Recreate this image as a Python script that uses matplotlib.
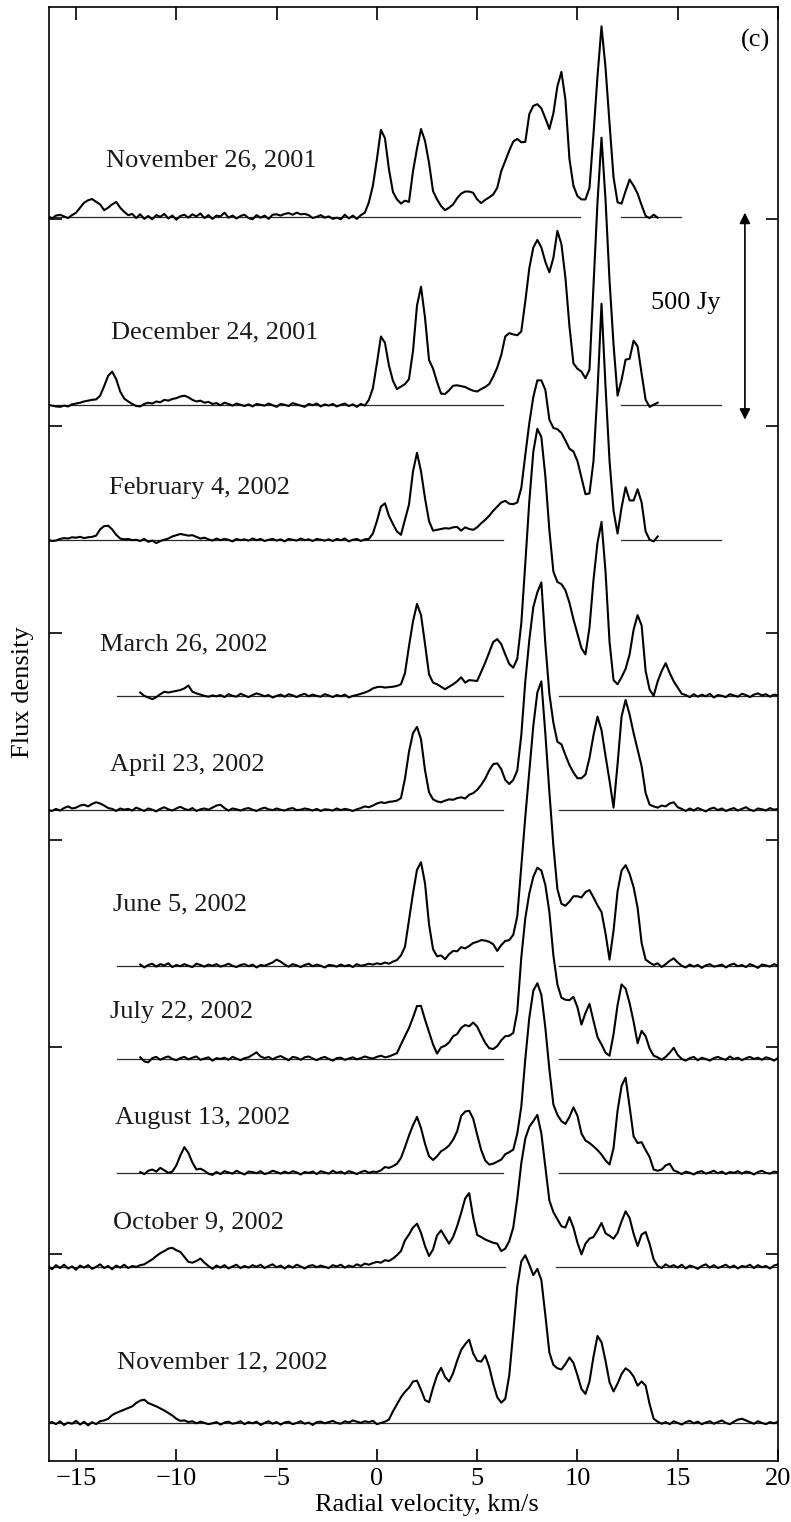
from matplotlib import pyplot as plt
import numpy as np


# ---- Spectra (flux above each baseline, Jy), channel spacing dv km/s ----

dv = 0.2

dates = ["November 26, 2001", "December 24, 2001", "February 4, 2002",
         "March 26, 2002", "April 23, 2002", "June 5, 2002", "July 22, 2002",
         "August 13, 2002", "October 9, 2002", "November 12, 2002"]

# first channel velocity of every spectrum
v_start = [-16.4, -16.4, -16.4, -11.8, -16.4, -11.8, -11.8, -11.8, -16.4, -16.4]

# vertical offset of every spectrum, Jy
offsets = [3005, 2551, 2225, 1848, 1573, 1196, 971, 696, 469, 92]

# velocity ranges where the zero level is drawn
zero_ranges = [
  [(-16.35, 10.15), (12.15, 15.15)],
  [(-16.35, 6.3), (12.15, 17.15)],
  [(-16.35, 6.3), (12.15, 17.15)],
  [(-12.95, 6.3), (9.1, 20.0)],
  [(-16.35, 6.3), (9.1, 20.0)],
  [(-12.95, 6.3), (9.1, 20.0)],
  [(-12.95, 6.3), (9.1, 20.0)],
  [(-12.95, 6.3), (9.1, 20.0)],
  [(-16.35, 6.4), (8.95, 20.0)],
  [(-16.35, 20.0)],
]

flux_2001_11_26 = [
  2, -4, 3, 5, 1, -3, 4, 10, 22, 34,
  40, 43, 36, 30, 16, 22, 30, 36, 22, 12,
  4, 7, -3, 6, -5, 2, -6, 4, 0, 7,
  -4, 3, -7, 2, 5, -2, 6, 1, 8, -3,
  4, -5, 3, 1, 10, -2, 3, -4, 2, 5,
  -3, -6, 4, -2, 3, -5, 5, 6, 3, 7,
  9, 5, 10, 6, 7, 4, -3, 0, 4, -2,
  1, -5, -2, -6, 5, -4, 3, -5, 4, 10,
  35, 75, 139, 210, 190, 115, 60, 42, 32, 39,
  36, 110, 165, 212, 183, 130, 62, 42, 26, 16,
  22, 30, 45, 56, 61, 61, 58, 42, 33, 41,
  47, 54, 70, 110, 135, 160, 182, 188, 180, 181,
  248, 268, 272, 262, 238, 212, 250, 315, 350, 283,
  140, 75, 50, 42, 42, 70, 200, 340, 460, 360,
  225, 95, 35, 32, 62, 90, 75, 56, 28, 2,
  -3, 5, -2]

flux_2001_12_24 = [
  0, -2, -4, -5, -2, -4, 1, 3, 5, 8,
  10, 12, 13, 22, 45, 70, 80, 62, 32, 15,
  8, 2, -3, -4, 2, 5, 3, 8, 6, 12,
  10, 14, 16, 20, 22, 18, 12, 8, 10, 5,
  7, 2, 4, -1, 5, 2, -2, 3, 0, -3,
  1, -4, 2, 0, -2, 3, -1, -5, 2, 0,
  -3, 4, 1, -2, -5, 2, -1, 3, -4, 1,
  -2, 2, -4, 0, 3, -3, 1, -5, 2, -2,
  12, 40, 100, 165, 150, 95, 58, 38, 44, 50,
  62, 130, 240, 285, 210, 108, 87, 55, 27, 26,
  35, 46, 47, 45, 43, 38, 34, 32, 38, 43,
  50, 68, 90, 120, 165, 173, 170, 168, 177, 250,
  330, 380, 398, 380, 345, 320, 355, 420, 388, 307,
  190, 100, 87, 80, 64, 85, 285, 490, 645, 495,
  300, 145, 22, 60, 109, 111, 155, 141, 75, 12,
  -5, 0, 5]

flux_2002_02_04 = [
  0, -3, -2, 2, 4, 3, 6, 5, 7, 4,
  6, 7, 10, 25, 33, 34, 25, 12, 3, 1,
  2, -1, 0, -3, 2, -5, -2, -8, -3, 0,
  3, 8, 11, 14, 12, 10, 11, 7, 3, 5,
  1, -2, 3, -1, 2, 0, -4, 2, -1, 1,
  -2, 3, -1, 2, -3, 0, 2, -2, 1, -4,
  2, 0, -2, 3, -1, 1, -3, 2, 0, -2,
  1, -3, 2, -1, 3, -4, 0, 2, -3, 1,
  2, 15, 45, 80, 88, 58, 38, 20, 12, 48,
  85, 165, 210, 165, 100, 45, 22, 24, 26, 28,
  27, 30, 31, 22, 30, 26, 24, 30, 40, 48,
  58, 70, 80, 90, 94, 87, 86, 90, 125, 205,
  282, 345, 385, 385, 362, 290, 270, 267, 258, 240,
  220, 213, 190, 150, 110, 112, 190, 360, 570, 370,
  190, 70, 15, 78, 127, 95, 95, 122, 90, 20,
  0, -4, 8]

flux_2002_03_26 = [
  8, 0, -4, -8, -3, 4, 10, 8, 10, 12,
  14, 18, 25, 10, 6, 3, 0, -2, 1, -1,
  2, -3, 4, 0, -2, 5, 1, -3, 2, 6,
  3, -1, 2, -4, 0, 3, -2, 4, 1, -3,
  2, 5, -1, 3, 0, -2, 4, 1, -3, 2,
  -1, 3, -4, 0, 2, 5, 8, 12, 18, 21,
  22, 20, 21, 22, 24, 28, 55, 120, 180, 222,
  195, 125, 52, 32, 28, 22, 16, 22, 28, 35,
  45, 32, 38, 37, 36, 58, 80, 105, 130, 137,
  125, 100, 77, 68, 90, 175, 320, 470, 590, 645,
  625, 530, 400, 300, 275, 270, 255, 225, 185, 150,
  115, 100, 165, 280, 370, 420, 300, 130, 38, 28,
  45, 65, 100, 160, 195, 170, 60, 15, 0, 35,
  60, 79, 55, 35, 20, 5, 2, -3, 4, -2,
  3, -1, 5, -4, 2, 0, -3, 4, 1, -2,
  5, 2, -3, 3, 6, 1, 4, -2, 3, 1]

flux_2002_04_23 = [
  0, -3, 2, -2, 4, 8, 3, 5, 10, 12,
  8, 14, 18, 15, 10, 4, 2, -3, 3, 0,
  2, -2, 5, 1, -3, 3, 0, -4, 2, 6,
  1, -2, 3, 7, 2, -1, 4, -3, 1, 3,
  0, 5, 10, 12, 4, -2, 3, 1, -2, 2,
  4, 0, -3, 2, 5, 1, -1, 3, 0, -2,
  2, 4, -1, 0, 3, 1, -2, 2, -3, 1,
  0, -2, 3, -1, 2, 0, -3, 1, 4, 8,
  6, 10, 15, 18, 16, 19, 20, 22, 28, 75,
  140, 185, 200, 170, 95, 42, 25, 20, 18, 22,
  25, 24, 28, 30, 27, 36, 40, 48, 60, 75,
  95, 110, 112, 98, 72, 62, 72, 95, 180, 310,
  410, 490, 525, 549, 400, 280, 210, 164, 158, 132,
  108, 90, 76, 76, 85, 125, 180, 225, 192, 130,
  70, 5, 110, 225, 265, 230, 185, 145, 105, 40,
  12, 8, 5, 10, 8, 15, 18, 6, 2, -3,
  3, -2, 4, 0, -4, 2, 5, -1, 3, -3,
  1, 4, -2, 2, 6, 0, -3, 3, 1, -2,
  4, 0, 2]

flux_2002_06_05 = [
  3, -4, 2, 5, -2, 4, 1, 6, -3, 2,
  -1, 4, 0, -3, 5, 2, -2, 3, 0, 4,
  -2, 1, 5, 0, -3, 2, 4, -1, 3, -4,
  2, 0, 4, 8, 15, 10, 3, -2, 4, 1,
  -3, 2, 5, -1, 3, 0, -4, 2, 1, -2,
  3, -1, 2, -3, 4, 0, 2, 5, 3, 6,
  4, 8, 5, 10, 14, 25, 46, 110, 175, 232,
  250, 199, 100, 40, 23, 25, 16, 28, 36, 35,
  45, 42, 48, 55, 58, 62, 61, 58, 52, 36,
  50, 60, 62, 75, 120, 240, 360, 470, 580, 660,
  687, 560, 420, 290, 185, 150, 145, 155, 168, 168,
  165, 178, 183, 165, 146, 130, 78, 15, 85, 180,
  230, 243, 222, 190, 140, 55, 15, 8, 2, 6,
  -3, 4, 12, 18, 8, 0, -4, 3, -2, 2,
  -5, 1, 4, -2, 0, 3, -4, 2, 5, -1,
  2, -3, 4, 0, -5, 3, 1, -2, 4, 0]

flux_2002_07_22 = [
  4, -6, -8, 2, 5, -2, 3, 6, 0, -3,
  2, 5, -1, 3, 6, -2, 1, 4, -4, 2,
  0, 3, -2, 5, 1, -3, 2, 4, 10, 16,
  6, 2, 5, -1, 4, 7, 2, -3, 5, 3,
  -2, 4, 6, 1, -3, 2, 5, 0, -4, 2,
  3, -2, 1, 4, -1, 2, 6, 3, 1, 5,
  8, 4, 6, 10, 14, 35, 55, 75, 100, 128,
  128, 95, 65, 35, 13, 28, 32, 40, 55, 60,
  75, 82, 79, 88, 78, 58, 39, 26, 24, 31,
  45, 55, 56, 63, 115, 245, 340, 400, 440, 462,
  455, 420, 355, 250, 180, 148, 143, 142, 150, 125,
  83, 111, 133, 92, 53, 35, 15, 8, 60, 130,
  180, 170, 135, 90, 38, 68, 55, 25, 8, 4,
  -2, 5, 15, 27, 10, 0, -4, 2, 5, -3,
  3, 0, -4, 2, 5, 1, -2, 6, 0, 3,
  -3, 2, 5, 0, 3, -2, 4, 1, -4, 2]

flux_2002_08_13 = [
  2, -3, 5, 8, 3, 12, 6, 0, 3, 18,
  42, 62, 48, 25, 8, 10, 5, -2, -5, 2,
  -3, 4, 1, -2, 5, 0, -4, 3, 2, -1,
  4, -3, 0, 5, 2, -2, 3, -1, 4, 1,
  -4, 2, 0, 3, -3, 4, 1, -2, 5, 0,
  3, -2, 4, 1, -3, 2, 5, 0, 3, 2,
  6, 14, 12, 16, 22, 36, 62, 90, 115, 135,
  108, 70, 40, 31, 40, 52, 58, 66, 80, 100,
  137, 148, 150, 131, 92, 55, 30, 20, 22, 27,
  32, 45, 50, 56, 95, 160, 275, 375, 440, 458,
  430, 350, 250, 165, 140, 125, 118, 135, 158, 138,
  95, 78, 72, 64, 55, 44, 30, 20, 60, 150,
  210, 230, 160, 88, 72, 74, 55, 38, 8, 5,
  8, 18, 22, 6, 2, -3, 3, 0, -4, 2,
  4, -2, 1, 5, -1, 3, -3, 2, 0, 4,
  -2, 3, 1, -4, 2, 5, 0, -2, 3, 1]

flux_2002_10_09 = [
  2, -6, 4, -3, 5, -4, 1, -7, 3, -2,
  4, -5, 0, 6, -3, 2, -6, 3, -2, 5,
  -3, 2, 0, 4, 6, 12, 18, 26, 33, 38,
  44, 46, 40, 36, 24, 12, 10, 14, 20, 10,
  2, -5, 3, -2, 4, -4, 1, 5, -3, 2,
  -2, 4, 0, 5, -3, 2, 6, -1, 3, -4,
  3, -2, 5, 1, -4, 2, 4, -1, 3, 0,
  -3, 4, 1, 5, -2, 3, 0, 6, 2, 8,
  5, 9, 12, 10, 16, 14, 20, 28, 38, 64,
  78, 95, 104, 82, 50, 26, 42, 76, 88, 72,
  56, 72, 98, 130, 165, 178, 120, 77, 72, 66,
  62, 58, 56, 38, 44, 62, 95, 165, 250, 310,
  338, 352, 367, 322, 240, 160, 132, 115, 98, 95,
  120, 95, 58, 30, 56, 68, 72, 88, 106, 81,
  75, 68, 82, 110, 134, 118, 80, 50, 78, 84,
  55, 18, 2, -3, 6, 0, 4, -2, 5, -4,
  3, 0, -5, 2, 6, -2, 4, -3, 1, 5,
  -2, 3, -4, 2, 0, 5, -3, 4, -1, 2,
  -4, 3, 6]

flux_2002_11_12 = [
  0, 2, -3, 4, -5, 1, -2, 5, -4, 3,
  -6, 2, -3, 4, 6, 10, 19, 24, 28, 32,
  36, 40, 48, 54, 56, 48, 44, 40, 35, 30,
  24, 18, 10, 5, 6, 2, 4, -1, 3, 0,
  -3, -1, 2, -4, 1, 3, -2, 0, 4, -3,
  2, -1, 3, -5, 0, 4, -2, 2, -4, 1,
  3, -3, 0, 4, -2, 1, -5, 2, 3, -1,
  2, 5, 0, -2, 4, 1, 6, 3, 0, 4,
  2, 5, -3, 0, 3, 8, 28, 45, 62, 75,
  85, 100, 102, 80, 55, 50, 85, 115, 133, 111,
  100, 120, 150, 176, 190, 201, 168, 150, 148, 163,
  135, 95, 62, 49, 58, 115, 220, 330, 390, 405,
  382, 357, 372, 345, 260, 170, 140, 132, 129, 142,
  158, 145, 115, 82, 70, 100, 160, 210, 195, 150,
  98, 76, 95, 118, 132, 125, 112, 90, 100, 90,
  45, 10, 3, -2, 2, -3, 4, 0, -4, 2,
  5, -1, 3, -3, 1, 4, -2, 2, 6, 0,
  -3, 3, 8, 10, 6, 2, -2, 4, 0, -3,
  2, -1, 3]

spectra = [flux_2001_11_26, flux_2001_12_24, flux_2002_02_04, flux_2002_03_26,
           flux_2002_04_23, flux_2002_06_05, flux_2002_07_22, flux_2002_08_13,
           flux_2002_10_09, flux_2002_11_12]

# date label anchors (velocity, Jy)
label_v = [-8.25, -8.1, -8.85, -9.65, -9.45, -9.8, -9.75, -8.7, -8.9, -7.7]
label_y = [3142, 2725, 2350, 1971, 1681, 1343, 1085, 829, 577, 239]

# scale bar
scale_jy = 500
scale_top = 3015
scale_v = 18.35


# ---- Plot ----

plt.rcParams['font.family'] = ['Liberation Serif', 'DejaVu Serif']

fig = plt.figure(figsize=(7.91, 15.22), dpi=100)
ax = fig.add_axes([49 / 791, 1 - 1461 / 1522, 729 / 791, 1453.7 / 1522])

for i in range(len(spectra)):
  flux = np.array(spectra[i], dtype=float)
  v = v_start[i] + dv * np.arange(len(flux))

  for v1, v2 in zero_ranges[i]:
    ax.plot([v1, v2], [offsets[i], offsets[i]], color="#2a2a2a", linewidth=0.9, zorder=2)

  ax.plot(v, offsets[i] + flux, color="black", linewidth=1.5, zorder=3)

  ax.text(label_v[i], label_y[i], dates[i], ha="center", va="center",
          fontsize=19, color="#1a1a1a")

# 500 Jy scale bar
ax.annotate("", xy=(scale_v, scale_top - scale_jy), xytext=(scale_v, scale_top),
            arrowprops=dict(arrowstyle="<|-|>", color="black", linewidth=1.2,
                            mutation_scale=16, shrinkA=0, shrinkB=0))
ax.text(15.4, 2797, "{:d} Jy".format(scale_jy), ha="center", va="center", fontsize=19)
ax.text(18.9, 3430, "(c)", ha="center", va="center", fontsize=19)

ax.set_xlim(-16.35, 20)
ax.set_ylim(0, 3511)
ax.set_xticks(np.arange(-15, 21, 5))
ax.set_yticks(np.arange(500, 3001, 500))
ax.tick_params(direction="in", top=True, right=True, length=9, width=1.2,
               labelsize=19, labelleft=False, pad=5)
for side in ax.spines.values():
  side.set_linewidth(1.2)

fig.text(427 / 791, 1 - 1505 / 1522, "Radial velocity, km/s", ha="center", va="center", fontsize=19)
fig.text(23 / 791, 1 - 692 / 1522, "Flux density", ha="center", va="center",
         rotation=90, fontsize=19)

fig.savefig("out.png", dpi=100)
